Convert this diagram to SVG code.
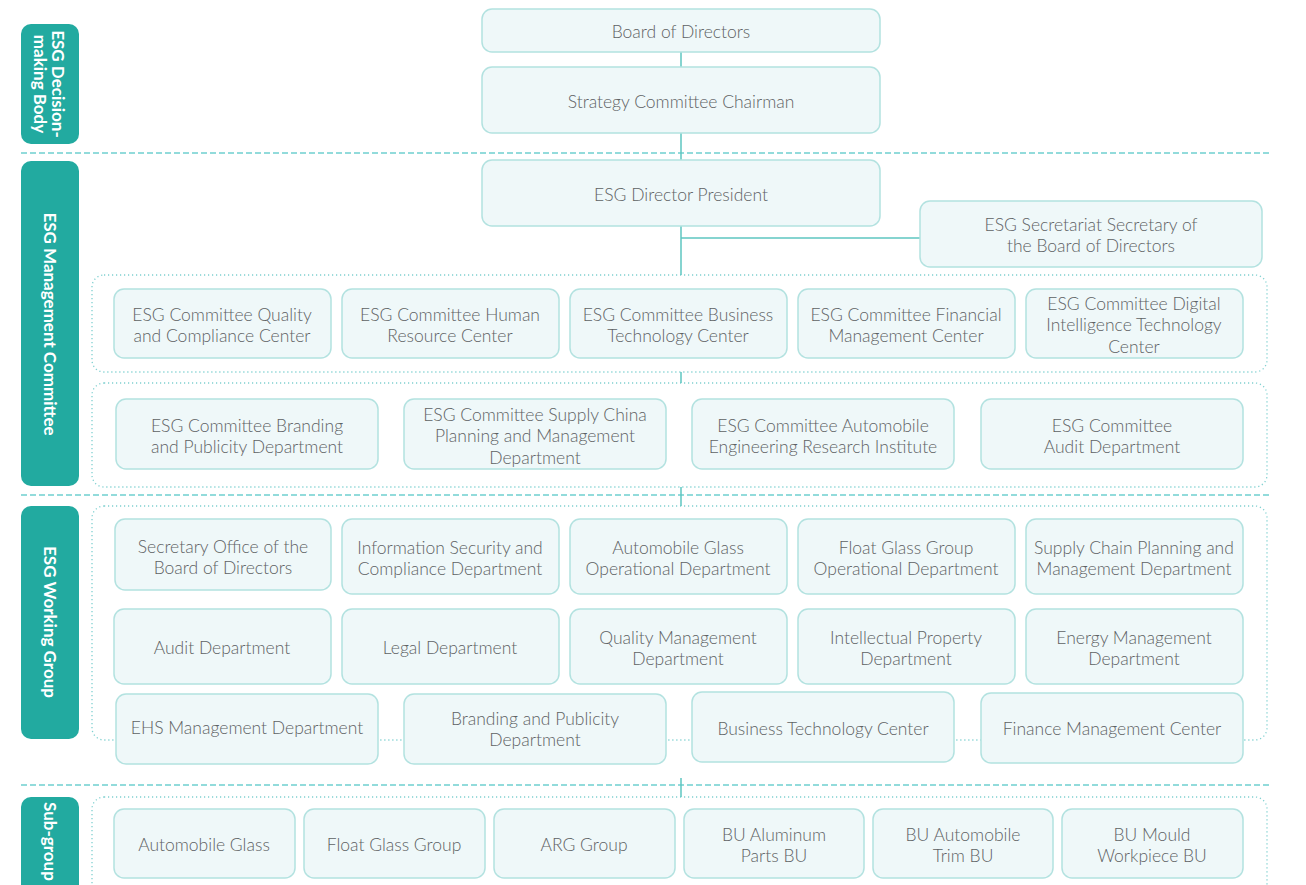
<svg xmlns="http://www.w3.org/2000/svg" width="1306" height="885" viewBox="0 0 1306 885">
<style>
.bg{fill:#ffffff}
.lbl rect{fill:#22AAA0}
.lbl text{fill:#ffffff;font-family:"Lato","Noto Sans",sans-serif;font-weight:700;font-size:17px;text-anchor:middle;dominant-baseline:central}
.node rect{fill:#EFF8F9;stroke:#B3E2E0;stroke-width:1.5}
.node text{fill:#5e6264;font-family:"Lato","Noto Sans",sans-serif;font-weight:300;font-size:17.5px;text-anchor:middle;dominant-baseline:central}
.sep{stroke:#6FCFCF;stroke-width:1.5;stroke-dasharray:6 3;fill:none}
.cont{stroke:#7FD0D0;stroke-width:1.3;stroke-dasharray:1.2 2.8;fill:none}
.conn{stroke:#5EC6C0;stroke-width:1.5;fill:none}
</style>
<rect class="bg" x="0" y="0" width="1306" height="885"/>

<g id="separators">
<line class="sep" x1="21" y1="153" x2="1269" y2="153"/>
<line class="sep" x1="21" y1="495" x2="1269" y2="495"/>
<line class="sep" x1="21" y1="785" x2="1269" y2="785"/>
</g>

<g id="containers">
<rect class="cont" x="92" y="275" width="1175" height="97" rx="12"/>
<rect class="cont" x="92" y="383" width="1175" height="104" rx="12"/>
<rect class="cont" x="92" y="506" width="1175" height="234" rx="12"/>
<rect class="cont" x="92" y="797" width="1175" height="120" rx="12"/>
</g>

<g id="connectors">
<line class="conn" x1="681" y1="52" x2="681" y2="67"/>
<line class="conn" x1="681" y1="133" x2="681" y2="160"/>
<line class="conn" x1="681" y1="226" x2="681" y2="275"/>
<line class="conn" x1="681" y1="238" x2="920" y2="238"/>
<line class="conn" x1="681" y1="372" x2="681" y2="383"/>
<line class="conn" x1="681" y1="487" x2="681" y2="506"/>
<line class="conn" x1="681" y1="778" x2="681" y2="797"/>
</g>

<g id="label-decision" class="lbl">
<rect x="21" y="24" width="58" height="120" rx="10"/>
<text transform="translate(50,84) rotate(90)"><tspan x="0" y="-9">ESG Decision-</tspan><tspan x="0" y="9">making Body</tspan></text>
</g>
<g id="label-management" class="lbl">
<rect x="21" y="161" width="58" height="325" rx="10"/>
<text transform="translate(50,324) rotate(90)">ESG Management Committee</text>
</g>
<g id="label-working" class="lbl">
<rect x="21" y="506" width="58" height="233" rx="10"/>
<text transform="translate(50,622) rotate(90)">ESG Working Group</text>
</g>
<g id="label-subgroup" class="lbl">
<rect x="21" y="797" width="58" height="120" rx="10"/>
<text transform="translate(50,802) rotate(90)" style="text-anchor:start">Sub-group</text>
</g>

<g id="n-board" class="node"><rect x="482" y="9" width="398" height="43" rx="10"/><text x="681" y="31">Board of Directors</text></g>
<g id="n-strategy" class="node"><rect x="482" y="67" width="398" height="66" rx="10"/><text x="681" y="101">Strategy Committee Chairman</text></g>
<g id="n-director" class="node"><rect x="482" y="160" width="398" height="66" rx="10"/><text x="681" y="194">ESG Director President</text></g>
<g id="n-secretariat" class="node"><rect x="920" y="201" width="342" height="66" rx="10"/><text x="1091" y="234"><tspan x="1091" y="224">ESG Secretariat Secretary of</tspan><tspan x="1091" y="245">the Board of Directors</tspan></text></g>

<g id="n-mc-quality" class="node"><rect x="114" y="289" width="217" height="69" rx="10"/><text x="222"><tspan x="222" y="314">ESG Committee Quality</tspan><tspan x="222" y="335">and Compliance Center</tspan></text></g>
<g id="n-mc-hr" class="node"><rect x="342" y="289" width="217" height="69" rx="10"/><text x="450"><tspan x="450" y="314">ESG Committee Human</tspan><tspan x="450" y="335">Resource Center</tspan></text></g>
<g id="n-mc-bt" class="node"><rect x="570" y="289" width="217" height="69" rx="10"/><text x="678"><tspan x="678" y="314">ESG Committee Business</tspan><tspan x="678" y="335">Technology Center</tspan></text></g>
<g id="n-mc-fin" class="node"><rect x="798" y="289" width="217" height="69" rx="10"/><text x="906"><tspan x="906" y="314">ESG Committee Financial</tspan><tspan x="906" y="335">Management Center</tspan></text></g>
<g id="n-mc-dig" class="node"><rect x="1026" y="289" width="217" height="69" rx="10"/><text x="1134"><tspan x="1134" y="303">ESG Committee Digital</tspan><tspan x="1134" y="324">Intelligence Technology</tspan><tspan x="1134" y="346">Center</tspan></text></g>

<g id="n-mc-brand" class="node"><rect x="116" y="399" width="262" height="70" rx="10"/><text x="247"><tspan x="247" y="425">ESG Committee Branding</tspan><tspan x="247" y="446">and Publicity Department</tspan></text></g>
<g id="n-mc-supply" class="node"><rect x="404" y="399" width="262" height="70" rx="10"/><text x="535"><tspan x="535" y="414">ESG Committee Supply China</tspan><tspan x="535" y="435">Planning and Management</tspan><tspan x="535" y="457">Department</tspan></text></g>
<g id="n-mc-auto" class="node"><rect x="692" y="399" width="262" height="70" rx="10"/><text x="823"><tspan x="823" y="425">ESG Committee Automobile</tspan><tspan x="823" y="446">Engineering Research Institute</tspan></text></g>
<g id="n-mc-audit" class="node"><rect x="981" y="399" width="262" height="70" rx="10"/><text x="1112"><tspan x="1112" y="425">ESG Committee</tspan><tspan x="1112" y="446">Audit Department</tspan></text></g>

<g id="n-wg-secoff" class="node"><rect x="115" y="519" width="216" height="71" rx="10"/><text x="223"><tspan x="223" y="546">Secretary Office of the</tspan><tspan x="223" y="567">Board of Directors</tspan></text></g>
<g id="n-wg-infosec" class="node"><rect x="342" y="519" width="217" height="75" rx="10"/><text x="450"><tspan x="450" y="547">Information Security and</tspan><tspan x="450" y="568">Compliance Department</tspan></text></g>
<g id="n-wg-autoglass" class="node"><rect x="570" y="519" width="217" height="75" rx="10"/><text x="678"><tspan x="678" y="547">Automobile Glass</tspan><tspan x="678" y="568">Operational Department</tspan></text></g>
<g id="n-wg-float" class="node"><rect x="798" y="519" width="217" height="75" rx="10"/><text x="906"><tspan x="906" y="547">Float Glass Group</tspan><tspan x="906" y="568">Operational Department</tspan></text></g>
<g id="n-wg-supply" class="node"><rect x="1026" y="519" width="217" height="75" rx="10"/><text x="1134"><tspan x="1134" y="547">Supply Chain Planning and</tspan><tspan x="1134" y="568">Management Department</tspan></text></g>

<g id="n-wg-audit" class="node"><rect x="114" y="609" width="217" height="75" rx="10"/><text x="222" y="647">Audit Department</text></g>
<g id="n-wg-legal" class="node"><rect x="342" y="609" width="217" height="75" rx="10"/><text x="450" y="647">Legal Department</text></g>
<g id="n-wg-quality" class="node"><rect x="570" y="609" width="217" height="75" rx="10"/><text x="678"><tspan x="678" y="637">Quality Management</tspan><tspan x="678" y="658">Department</tspan></text></g>
<g id="n-wg-ip" class="node"><rect x="798" y="609" width="217" height="75" rx="10"/><text x="906"><tspan x="906" y="637">Intellectual Property</tspan><tspan x="906" y="658">Department</tspan></text></g>
<g id="n-wg-energy" class="node"><rect x="1026" y="609" width="217" height="75" rx="10"/><text x="1134"><tspan x="1134" y="637">Energy Management</tspan><tspan x="1134" y="658">Department</tspan></text></g>

<g id="n-wg-ehs" class="node"><rect x="116" y="694" width="262" height="70" rx="10"/><text x="247" y="727">EHS Management Department</text></g>
<g id="n-wg-brand" class="node"><rect x="404" y="694" width="262" height="70" rx="10"/><text x="535"><tspan x="535" y="718">Branding and Publicity</tspan><tspan x="535" y="739">Department</tspan></text></g>
<g id="n-wg-bt" class="node"><rect x="692" y="692" width="262" height="70" rx="10"/><text x="823" y="728">Business Technology Center</text></g>
<g id="n-wg-fin" class="node"><rect x="981" y="693" width="262" height="70" rx="10"/><text x="1112" y="728">Finance Management Center</text></g>

<g id="n-sg-autoglass" class="node"><rect x="114" y="809" width="181" height="69" rx="10"/><text x="204" y="844">Automobile Glass</text></g>
<g id="n-sg-float" class="node"><rect x="304" y="809" width="181" height="69" rx="10"/><text x="394" y="844">Float Glass Group</text></g>
<g id="n-sg-arg" class="node"><rect x="494" y="809" width="181" height="69" rx="10"/><text x="584" y="844">ARG Group</text></g>
<g id="n-sg-alu" class="node"><rect x="684" y="809" width="180" height="69" rx="10"/><text x="774"><tspan x="774" y="834">BU Aluminum</tspan><tspan x="774" y="855">Parts BU</tspan></text></g>
<g id="n-sg-trim" class="node"><rect x="873" y="809" width="180" height="69" rx="10"/><text x="963"><tspan x="963" y="834">BU Automobile</tspan><tspan x="963" y="855">Trim BU</tspan></text></g>
<g id="n-sg-mould" class="node"><rect x="1062" y="809" width="181" height="69" rx="10"/><text x="1152"><tspan x="1152" y="834">BU Mould</tspan><tspan x="1152" y="855">Workpiece BU</tspan></text></g>
</svg>
